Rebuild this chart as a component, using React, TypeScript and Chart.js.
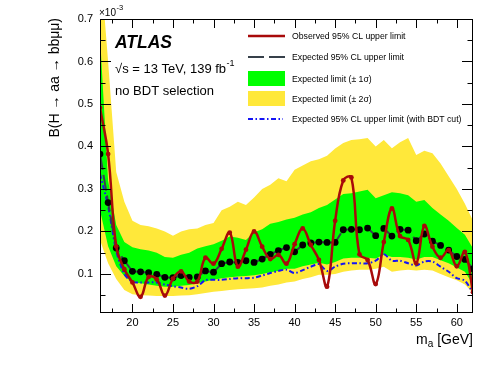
import React, { useEffect, useRef } from 'react';
import { Chart, registerables } from 'chart.js';

Chart.register(...registerables);

// ---- data (values in units of 1e-3) ----
const masses = [16, 17, 18, 19, 20, 21, 22, 23, 24, 25, 26, 27, 28, 29, 30, 31, 32, 33, 34, 35, 36, 37, 38, 39, 40, 41, 42, 43, 44, 45, 46, 47, 48, 49, 50, 51, 52, 53, 54, 55, 56, 57, 58, 59, 60, 61, 62];

const observed = [0.491, 0.382, 0.165, 0.111, 0.080, 0.046, 0.093, 0.087, 0.049, 0.089, 0.106, 0.082, 0.082, 0.138, 0.124, 0.159, 0.197, 0.117, 0.157, 0.200, 0.164, 0.135, 0.145, 0.124, 0.170, 0.207, 0.168, 0.133, 0.070, 0.225, 0.320, 0.327, 0.146, 0.133, 0.076, 0.175, 0.254, 0.189, 0.180, 0.125, 0.213, 0.164, 0.138, 0.156, 0.118, 0.152, 0.057];

const expected = [0.382, 0.268, 0.161, 0.131, 0.106, 0.105, 0.103, 0.099, 0.092, 0.091, 0.096, 0.092, 0.093, 0.107, 0.104, 0.124, 0.128, 0.127, 0.131, 0.127, 0.135, 0.146, 0.155, 0.162, 0.152, 0.168, 0.173, 0.175, 0.174, 0.174, 0.204, 0.205, 0.204, 0.208, 0.190, 0.207, 0.189, 0.205, 0.203, 0.178, 0.194, 0.177, 0.167, 0.156, 0.141, 0.134, 0.112];

const sigma1Up = [0.66, 0.32, 0.215, 0.175, 0.163, 0.158, 0.155, 0.150, 0.140, 0.138, 0.145, 0.150, 0.160, 0.165, 0.170, 0.178, 0.188, 0.185, 0.180, 0.198, 0.205, 0.218, 0.222, 0.228, 0.232, 0.240, 0.245, 0.255, 0.262, 0.275, 0.288, 0.290, 0.294, 0.298, 0.278, 0.285, 0.292, 0.290, 0.285, 0.270, 0.274, 0.255, 0.240, 0.225, 0.208, 0.192, 0.160];

const sigma1Down = [0.250, 0.165, 0.118, 0.095, 0.080, 0.078, 0.075, 0.072, 0.070, 0.070, 0.072, 0.074, 0.078, 0.082, 0.086, 0.090, 0.092, 0.094, 0.095, 0.097, 0.100, 0.104, 0.107, 0.112, 0.112, 0.118, 0.122, 0.126, 0.122, 0.128, 0.136, 0.138, 0.138, 0.138, 0.136, 0.145, 0.140, 0.140, 0.138, 0.134, 0.140, 0.140, 0.132, 0.125, 0.115, 0.105, 0.075];

const sigma2Up = [0.84, 0.60, 0.34, 0.27, 0.225, 0.215, 0.212, 0.207, 0.200, 0.190, 0.200, 0.205, 0.207, 0.215, 0.220, 0.250, 0.258, 0.270, 0.262, 0.280, 0.300, 0.310, 0.325, 0.318, 0.345, 0.355, 0.365, 0.370, 0.378, 0.395, 0.408, 0.415, 0.417, 0.420, 0.400, 0.415, 0.396, 0.410, 0.420, 0.380, 0.390, 0.384, 0.360, 0.330, 0.300, 0.265, 0.225];

const sigma2Down = [0.180, 0.125, 0.088, 0.062, 0.052, 0.050, 0.049, 0.048, 0.048, 0.048, 0.049, 0.050, 0.052, 0.055, 0.058, 0.060, 0.062, 0.064, 0.065, 0.066, 0.068, 0.072, 0.075, 0.080, 0.082, 0.088, 0.092, 0.098, 0.098, 0.100, 0.105, 0.108, 0.110, 0.110, 0.112, 0.117, 0.105, 0.108, 0.110, 0.108, 0.110, 0.108, 0.100, 0.092, 0.085, 0.075, 0.055];

const expectedBDT = [0.335, 0.26, 0.155, 0.100, 0.081, 0.080, 0.080, 0.080, 0.075, 0.071, 0.068, 0.065, 0.071, 0.085, 0.086, 0.086, 0.088, 0.090, 0.090, 0.091, 0.096, 0.102, 0.107, 0.110, 0.102, 0.109, 0.117, 0.123, 0.107, 0.117, 0.124, 0.125, 0.125, 0.125, 0.131, 0.146, 0.131, 0.131, 0.125, 0.120, 0.129, 0.129, 0.117, 0.105, 0.090, 0.084, 0.055];

const yTickValues = [0.1, 0.2, 0.3, 0.4, 0.5, 0.6, 0.7];
const xTickValues = [20, 25, 30, 35, 40, 45, 50, 55, 60];

const legendLabels = [
  'Observed 95% CL upper limit',
  'Expected 95% CL upper limit',
  'Expected limit (\u00b1 1\u03c3)',
  'Expected limit (\u00b1 2\u03c3)',
  'Expected 95% CL upper limit (with BDT cut)',
];

const FONT = '"Liberation Sans", Arial, Helvetica, sans-serif';
const RED = '#A80A0A';
const DARK = '#36404A';
const GREEN = '#00FF00';
const YELLOW = '#FFE83A';
const BLUE = '#1414F5';

const pts = (arr: number[]) => arr.map((v, i) => ({ x: masses[i], y: v }));

const decorPlugin = {
  id: 'decor',
  afterDraw(chart: any) {
    const ctx = chart.ctx as CanvasRenderingContext2D;
    const { left, right, top, bottom } = chart.chartArea;
    const xs = chart.scales.x;
    const ys = chart.scales.y;
    ctx.save();
    // frame
    ctx.strokeStyle = '#000';
    ctx.lineWidth = 1;
    ctx.setLineDash([]);
    ctx.strokeRect(left + 0.5, top + 0.5, right - left - 1, bottom - top - 1);
    // y ticks
    ctx.beginPath();
    for (let v = 0.05; v <= 0.7001; v += 0.05) {
      const py = Math.round(ys.getPixelForValue(v)) + 0.5;
      const major = Math.abs(v * 10 - Math.round(v * 10)) < 1e-6;
      const len = major ? 11 : 5.5;
      ctx.moveTo(left, py); ctx.lineTo(left + len, py);
      ctx.moveTo(right, py); ctx.lineTo(right - len, py);
    }
    // x ticks
    for (let v = 17.5; v <= 62.0001; v += 2.5) {
      const px = Math.round(xs.getPixelForValue(v)) + 0.5;
      const major = Math.abs(v / 5 - Math.round(v / 5)) < 1e-6;
      const len = major ? 9 : 4.5;
      ctx.moveTo(px, bottom); ctx.lineTo(px, bottom - len);
      ctx.moveTo(px, top); ctx.lineTo(px, top + len);
    }
    ctx.stroke();

    ctx.fillStyle = '#000';
    ctx.textBaseline = 'alphabetic';
    ctx.textAlign = 'left';
    // x10^-3
    ctx.font = `10px ${FONT}`;
    ctx.fillText('\u00d710', 99, 16);
    const w10 = ctx.measureText('\u00d710').width;
    ctx.font = `7.5px ${FONT}`;
    ctx.fillText('-3', 99 + w10 + 0.5, 10);

    // ATLAS label
    ctx.font = `italic bold 17.5px ${FONT}`;
    ctx.fillText('ATLAS', 115, 48);
    ctx.font = `13px ${FONT}`;
    const s1 = '\u221as = 13 TeV, 139 fb';
    ctx.fillText(s1, 115, 73);
    const ws1 = ctx.measureText(s1).width;
    ctx.font = `9px ${FONT}`;
    ctx.fillText('-1', 115 + ws1 + 0.5, 66);
    ctx.font = `13px ${FONT}`;
    ctx.fillText('no BDT selection', 115, 95);

    // legend
    const lx0 = 248, lx1 = 285, tx = 292;
    const rows = [36, 57, 79, 99, 119];
    ctx.lineCap = 'butt';
    // observed
    ctx.strokeStyle = RED; ctx.lineWidth = 2.5; ctx.setLineDash([]);
    ctx.beginPath(); ctx.moveTo(lx0, rows[0]); ctx.lineTo(lx1, rows[0]); ctx.stroke();
    // expected
    ctx.strokeStyle = DARK; ctx.lineWidth = 2.2; ctx.setLineDash([16, 5]);
    ctx.beginPath(); ctx.moveTo(lx0, rows[1]); ctx.lineTo(lx1, rows[1]); ctx.stroke();
    ctx.setLineDash([]);
    ctx.fillStyle = GREEN; ctx.fillRect(lx0, rows[2] - 8, lx1 - lx0, 15);
    ctx.fillStyle = YELLOW; ctx.fillRect(lx0, rows[3] - 8, lx1 - lx0, 15);
    ctx.strokeStyle = BLUE; ctx.lineWidth = 2; ctx.setLineDash([5, 2.5, 1.5, 2.5]);
    ctx.beginPath(); ctx.moveTo(lx0, rows[4]); ctx.lineTo(lx1 - 2, rows[4]); ctx.stroke();
    ctx.setLineDash([]);
    ctx.fillStyle = '#000';
    ctx.font = `8.7px ${FONT}`;
    legendLabels.forEach((t, i) => ctx.fillText(t, tx, rows[i] + 3));

    // y title
    ctx.save();
    ctx.translate(59, 18);
    ctx.rotate(-Math.PI / 2);
    ctx.font = `14px ${FONT}`;
    ctx.textAlign = 'right';
    ctx.textBaseline = 'alphabetic';
    ctx.fillText('B(H \u2192 aa \u2192 bb\u03bc\u03bc)', 0, 0);
    ctx.restore();

    // x title
    ctx.font = `14px ${FONT}`;
    const tail = ' [GeV]';
    const wTail = ctx.measureText(tail).width;
    const wM = ctx.measureText('m').width;
    ctx.font = `10px ${FONT}`;
    const wa = ctx.measureText('a').width;
    const xEnd = 473;
    const xStart = xEnd - wTail - wa - wM;
    ctx.font = `14px ${FONT}`;
    ctx.fillText('m', xStart, 344);
    ctx.fillText(tail, xStart + wM + wa, 344);
    ctx.font = `10px ${FONT}`;
    ctx.fillText('a', xStart + wM, 347);
    ctx.restore();
  },
};

export default function App() {
  const ref = useRef<HTMLCanvasElement | null>(null);
  useEffect(() => {
    document.body.style.margin = '0';
    const canvas = ref.current!;
    const chart = new Chart(canvas, {
      type: 'line',
      data: {
        datasets: [
          { label: '2s up', data: pts(sigma2Up), borderWidth: 0, pointRadius: 0, backgroundColor: YELLOW, borderColor: YELLOW, fill: '+1', tension: 0, order: 7 },
          { label: '2s down', data: pts(sigma2Down), borderWidth: 0, pointRadius: 0, borderColor: YELLOW, fill: false, tension: 0, order: 6 },
          { label: '1s up', data: pts(sigma1Up), borderWidth: 0, pointRadius: 0, backgroundColor: GREEN, borderColor: GREEN, fill: '+1', tension: 0, order: 5 },
          { label: '1s down', data: pts(sigma1Down), borderWidth: 0, pointRadius: 0, borderColor: GREEN, fill: false, tension: 0, order: 4 },
          { label: 'BDT', data: pts(expectedBDT), borderWidth: 2, borderColor: BLUE, borderDash: [5, 2.5, 1.5, 2.5], pointRadius: 0, fill: false, tension: 0.3, order: 3 },
          { label: 'Expected', data: pts(expected), borderWidth: 2, borderColor: DARK, borderDash: [16, 5], pointRadius: 3.4, pointBackgroundColor: '#000', pointBorderColor: '#000', pointBorderWidth: 0, fill: false, tension: 0, order: 2 },
          { label: 'Observed', data: pts(observed), borderWidth: 2.5, borderColor: RED, pointRadius: 2.4, pointBackgroundColor: RED, pointBorderColor: RED, pointBorderWidth: 0, fill: false, tension: 0.4, order: 1 },
        ],
      },
      options: {
        animation: false,
        responsive: false,
        devicePixelRatio: 1,
        layout: { padding: { left: 0, right: 25, top: 19, bottom: 0 } },
        plugins: { legend: { display: false }, tooltip: { enabled: false } },
        scales: {
          x: {
            type: 'linear', min: 16, max: 62,
            grid: { display: false, drawTicks: false },
            border: { display: false },
            afterFit: (s: any) => { s.height = 60; },
            afterBuildTicks: (s: any) => { s.ticks = xTickValues.map((v) => ({ value: v })); },
            ticks: { font: { family: FONT, size: 11 }, color: '#000', padding: 3, maxRotation: 0, autoSkip: false, callback: (v: any) => String(v) },
          },
          y: {
            type: 'linear', min: 0.008, max: 0.7,
            grid: { display: false, drawTicks: false },
            border: { display: false },
            afterFit: (s: any) => { s.width = 100; },
            afterBuildTicks: (s: any) => { s.ticks = yTickValues.map((v) => ({ value: v })); },
            ticks: { font: { family: FONT, size: 11 }, color: '#000', padding: 7, autoSkip: false, callback: (v: any) => Number(v).toFixed(1) },
          },
        },
      },
      plugins: [decorPlugin],
    });
    return () => chart.destroy();
  }, []);
  return (
    <div style={{ position: 'absolute', left: 0, top: 0, width: 498, height: 373, background: '#fff' }}>
      <canvas ref={ref} width={498} height={373} style={{ display: 'block', width: 498, height: 373 }} />
    </div>
  );
}
